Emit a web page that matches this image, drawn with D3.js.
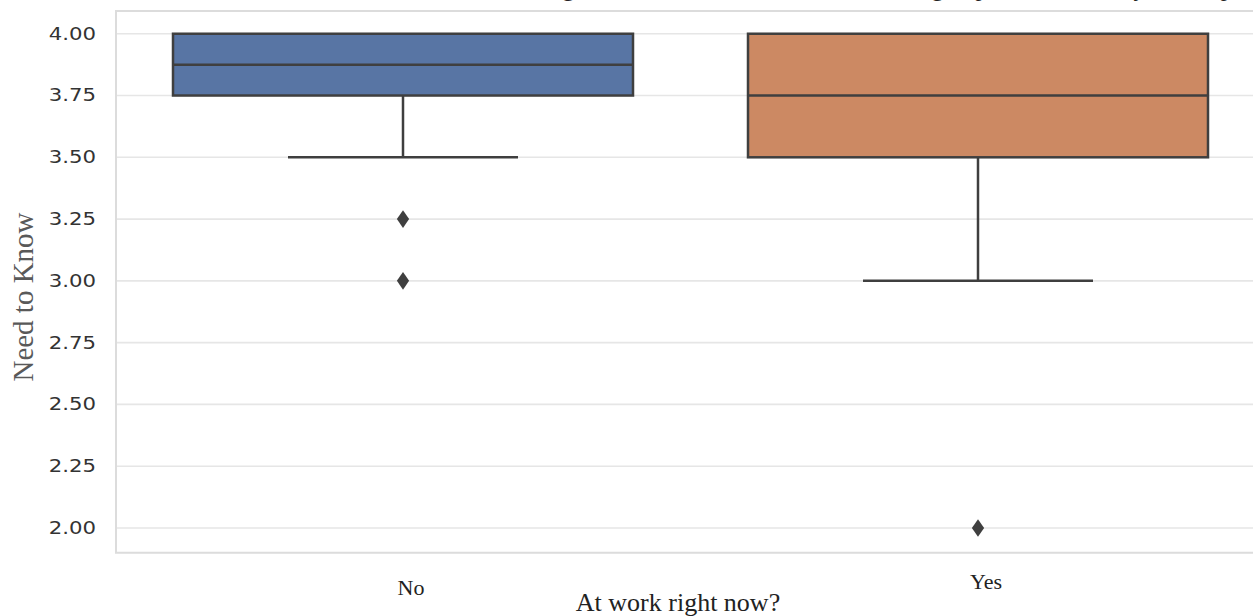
<!DOCTYPE html>
<html>
<head>
<meta charset="utf-8">
<title>Need to Know by work status</title>
<script src="https://cdn.jsdelivr.net/npm/d3@7"></script>
<style>
  body { margin: 0; background: #fff; }
  svg { display: block; }
</style>
</head>
<body>
<div id="chart"></div>
<script>
// data
var categories = ["No", "Yes"];
var q1 = [3.75, 3.5];
var median = [3.875, 3.75];
var q3 = [4.0, 4.0];
var whiskerLow = [3.5, 3.0];
var whiskerHigh = [4.0, 4.0];
var outliers = [[3.25, 3.0], [2.0]];
var yTicks = [2.0, 2.25, 2.5, 2.75, 3.0, 3.25, 3.5, 3.75, 4.0];
var boxColors = ["#5875a4", "#cc8963"];

var W = 1253, H = 616;
var line = "#3f3f3f";

var svg = d3.select("#chart").append("svg")
    .attr("width", W).attr("height", H);

var x = d3.scaleBand().domain(categories).range([115.5, 1265.5]).padding(0);
var y = d3.scaleLinear().domain([1.9, 4.092]).range([552.7, 11]);

// title, mostly cut off above the picture (only descenders show)
svg.append("text")
    .attr("x", 297).attr("y", -4)
    .style("font-family", "Liberation Serif")
    .style("font-size", "24px")
    .attr("fill", "#222")
    .text("Need to Know scores among those at work and not at work in the group from the survey for the panel");

// grid
svg.append("g").selectAll("line")
    .data(yTicks)
    .enter().append("line")
    .attr("x1", 116).attr("x2", W)
    .attr("y1", function(d) { return y(d); })
    .attr("y2", function(d) { return y(d); })
    .attr("stroke", "#e6e6e6").attr("stroke-width", 1.6);

// frame
svg.append("path")
    .attr("d", "M" + W + "," + y.range()[1] + "H116V" + y.range()[0] + "H" + W)
    .attr("fill", "none").attr("stroke", "#dcdcdc").attr("stroke-width", 2);

// y axis labels
var yAxis = svg.append("g")
    .attr("transform", "translate(116,0)")
    .call(d3.axisLeft(y).tickValues(yTicks).tickSize(0).tickFormat(d3.format(".2f")));
yAxis.select(".domain").remove();
yAxis.selectAll("text")
    .attr("x", -16)
    .attr("transform", "scale(1.25,1)")
    .style("font-family", "DejaVu Sans")
    .style("font-size", "17px")
    .attr("fill", "#333");

svg.append("text")
    .attr("transform", "translate(33,297) rotate(-90)")
    .attr("text-anchor", "middle")
    .style("font-family", "Liberation Serif")
    .style("font-size", "29px")
    .attr("fill", "#595959")
    .text("Need to Know");

// x labels
var xLab = [595, 589];
svg.append("g").selectAll("text")
    .data(categories)
    .enter().append("text")
    .attr("x", function(d) { return x(d) + x.bandwidth() / 2 + 8; })
    .attr("y", function(d, i) { return xLab[i]; })
    .attr("text-anchor", "middle")
    .style("font-family", "Liberation Serif")
    .style("font-size", "22px")
    .attr("fill", "#222")
    .text(function(d) { return d; });

svg.append("text")
    .attr("x", 678).attr("y", 611)
    .attr("text-anchor", "middle")
    .style("font-family", "Liberation Serif")
    .style("font-size", "26px")
    .attr("fill", "#222")
    .text("At work right now?");

// boxes
var boxW = x.bandwidth() * 0.8;
var g = svg.append("g").selectAll("g")
    .data(categories)
    .enter().append("g")
    .attr("transform", function(d) { return "translate(" + (x(d) + x.bandwidth() / 2) + ",0)"; });

g.append("line")
    .attr("x1", 0).attr("x2", 0)
    .attr("y1", function(d, i) { return y(q1[i]); })
    .attr("y2", function(d, i) { return y(whiskerLow[i]); })
    .attr("stroke", line).attr("stroke-width", 2.5);
g.append("line")
    .attr("x1", -boxW / 4).attr("x2", boxW / 4)
    .attr("y1", function(d, i) { return y(whiskerLow[i]); })
    .attr("y2", function(d, i) { return y(whiskerLow[i]); })
    .attr("stroke", line).attr("stroke-width", 2.5);

g.append("rect")
    .attr("x", -boxW / 2).attr("width", boxW)
    .attr("y", function(d, i) { return y(q3[i]); })
    .attr("height", function(d, i) { return y(q1[i]) - y(q3[i]); })
    .attr("fill", function(d, i) { return boxColors[i]; })
    .attr("stroke", line).attr("stroke-width", 2.5);

g.append("line")
    .attr("x1", -boxW / 2).attr("x2", boxW / 2)
    .attr("y1", function(d, i) { return y(median[i]); })
    .attr("y2", function(d, i) { return y(median[i]); })
    .attr("stroke", line).attr("stroke-width", 2.5);

var diamond = d3.symbol().type(d3.symbolDiamond).size(90);
g.selectAll("path.flier")
    .data(function(d, i) { return outliers[i]; })
    .enter().append("path")
    .attr("class", "flier")
    .attr("d", diamond)
    .attr("transform", function(v) { return "translate(0," + y(v) + ") scale(1.2,1)"; })
    .attr("fill", line);
</script>
</body>
</html>
